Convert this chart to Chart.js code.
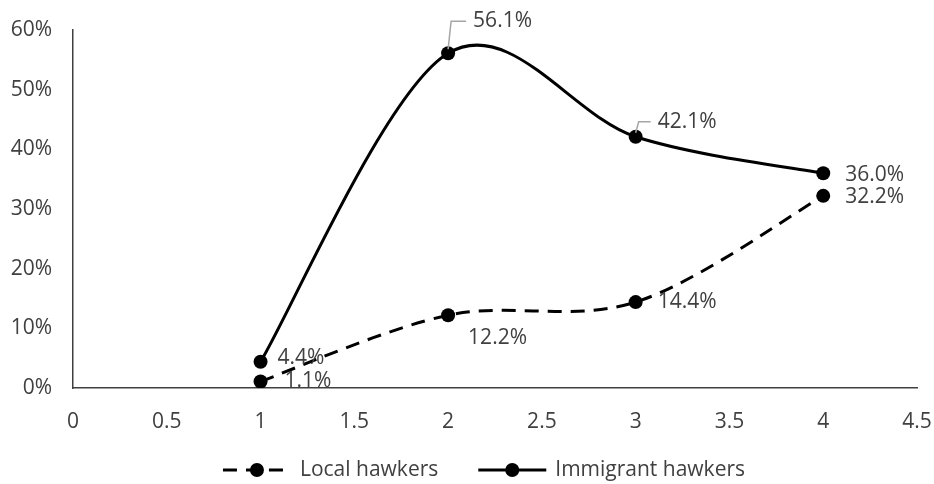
<!DOCTYPE html>
<html>
<head>
<meta charset="utf-8">
<script src="https://cdn.jsdelivr.net/npm/chart.js@4"></script>
<style>
  html, body { margin: 0; padding: 0; background: #fff; }
  #wrap { width: 934px; height: 484px; }
</style>
</head>
<body>
<div id="wrap"><canvas id="c" width="934" height="484"></canvas></div>
<script>
// Survey shares (%) by category for the two hawker groups
const xValues = [1, 2, 3, 4];
const localHawkers = [1.1, 12.2, 14.4, 32.2];
const immigrantHawkers = [4.4, 56.1, 42.1, 36.0];
const seriesNames = ['Local hawkers', 'Immigrant hawkers'];
const yTickMax = 60;
const yTickStep = 10;
const xTickMax = 4.5;
const xTickStep = 0.5;

const FONT = '"Open Sans", "Noto Sans", sans-serif';
const FONT_SIZE = 21;
const TEXT_COLOR = '#404040';

// Value-label placement relative to each point: [dx to text start, dy to text middle, leader?]
const labelPlacement = [
  [[24, 0], [20, 23], [22, 0], [22, 1]],
  [[17, -4], [25, -32, true], [22, -15, true], [22, 2]]
];

const toPoints = vals => xValues.map((x, i) => ({ x: x, y: vals[i] }));

// Spreadsheet-style smoothing: Catmull-Rom control points (1/6 of the
// neighbour chord), with the end points repeated at each end.
const smoothLines = {
  id: 'smoothLines',
  beforeDatasetsDraw(chart) {
    chart.data.datasets.forEach((ds, di) => {
      const meta = chart.getDatasetMeta(di);
      const pts = meta.data;
      const n = pts.length;
      for (let i = 0; i < n; i++) {
        const prev = pts[Math.max(i - 1, 0)];
        const next = pts[Math.min(i + 1, n - 1)];
        const dx = (next.x - prev.x) / 6;
        const dy = (next.y - prev.y) / 6;
        pts[i].cp1x = pts[i].x - dx;
        pts[i].cp1y = pts[i].y - dy;
        pts[i].cp2x = pts[i].x + dx;
        pts[i].cp2y = pts[i].y + dy;
      }
      if (meta.dataset) {
        meta.dataset._pointsUpdated = true;
        meta.dataset._path = undefined;
      }
    });
  }
};

const valueLabels = {
  id: 'valueLabels',
  afterDatasetsDraw(chart) {
    const ctx = chart.ctx;
    ctx.save();
    ctx.font = FONT_SIZE + 'px ' + FONT;
    ctx.fillStyle = TEXT_COLOR;
    ctx.textBaseline = 'middle';
    ctx.textAlign = 'left';
    chart.data.datasets.forEach((ds, di) => {
      const meta = chart.getDatasetMeta(di);
      meta.data.forEach((pt, i) => {
        const p = labelPlacement[di][i];
        const v = ds.data[i].y;
        if (p[2]) {
          const ly = pt.y + p[1];
          ctx.strokeStyle = '#a6a6a6';
          ctx.lineWidth = 1.5;
          ctx.beginPath();
          ctx.moveTo(pt.x, pt.y - 4);
          ctx.lineTo(pt.x + 3, ly);
          ctx.lineTo(pt.x + p[0] - 7, ly);
          ctx.stroke();
        }
        ctx.fillText(v.toFixed(1) + '%', pt.x + p[0], pt.y + p[1]);
      });
    });
    ctx.restore();
  }
};

// Legend with line + marker samples under the plot
const lineLegend = {
  id: 'lineLegend',
  afterDraw(chart) {
    const ctx = chart.ctx;
    ctx.save();
    ctx.font = FONT_SIZE + 'px ' + FONT;
    ctx.textBaseline = 'middle';
    const y = 470;
    const sample = 68, gapText = 9, gapItems = 40;
    const widths = chart.data.datasets.map(ds => sample + gapText + ctx.measureText(ds.label).width);
    const total = widths.reduce((a, b) => a + b, 0) + gapItems * (widths.length - 1);
    let x = (chart.width - total) / 2 + 17;
    chart.data.datasets.forEach((ds, i) => {
      ctx.strokeStyle = ds.borderColor;
      ctx.lineWidth = ds.borderWidth;
      ctx.setLineDash(ds.borderDash || []);
      ctx.beginPath();
      ctx.moveTo(x, y);
      ctx.lineTo(x + sample, y);
      ctx.stroke();
      ctx.setLineDash([]);
      ctx.fillStyle = ds.pointBackgroundColor;
      ctx.beginPath();
      ctx.arc(x + sample / 2, y, ds.pointRadius, 0, Math.PI * 2);
      ctx.fill();
      ctx.fillStyle = TEXT_COLOR;
      ctx.textAlign = 'left';
      ctx.fillText(ds.label, x + sample + gapText, y);
      x += widths[i] + gapItems;
    });
    ctx.restore();
  }
};

new Chart(document.getElementById('c'), {
  type: 'line',
  data: {
    datasets: [
      {
        label: seriesNames[0],
        data: toPoints(localHawkers),
        borderColor: '#000',
        borderWidth: 3,
        borderDash: [14, 9],
        pointRadius: 7,
        pointBackgroundColor: '#000',
        pointBorderWidth: 0,
        tension: 0.4,
        fill: false
      },
      {
        label: seriesNames[1],
        data: toPoints(immigrantHawkers),
        borderColor: '#000',
        borderWidth: 3,
        pointRadius: 7,
        pointBackgroundColor: '#000',
        pointBorderWidth: 0,
        tension: 0.4,
        fill: false
      }
    ]
  },
  options: {
    responsive: false,
    animation: false,
    events: [],
    layout: { padding: { top: 30, right: 17, left: 0, bottom: 0 } },
    plugins: {
      legend: { display: false },
      tooltip: { enabled: false }
    },
    scales: {
      x: {
        type: 'linear',
        min: 0,
        max: xTickMax,
        grid: { display: false },
        border: { display: true, color: '#404040', width: 1.5 },
        ticks: {
          stepSize: xTickStep,
          color: TEXT_COLOR,
          padding: 13,
          font: { family: FONT, size: FONT_SIZE },
          callback: v => String(Math.round(v * 10) / 10)
        },
        afterFit(s) { s.height = 96; s.paddingRight = 0; s.paddingLeft = 0; }
      },
      y: {
        min: 0,
        max: yTickMax,
        grid: { display: false },
        border: { display: true, color: '#404040', width: 1.5 },
        ticks: {
          stepSize: yTickStep,
          color: TEXT_COLOR,
          padding: 13,
          font: { family: FONT, size: FONT_SIZE },
          callback: v => v + '%'
        },
        afterFit(s) { s.width = 73; }
      }
    }
  },
  plugins: [smoothLines, valueLabels, lineLegend]
});
</script>
</body>
</html>
